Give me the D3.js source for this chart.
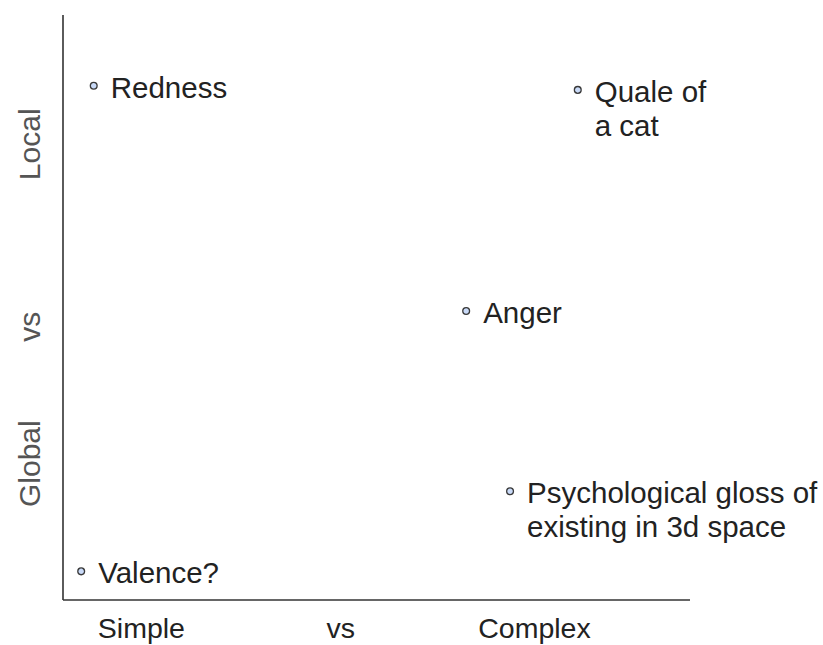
<!DOCTYPE html>
<html>
<head>
<meta charset="utf-8">
<script src="https://cdn.jsdelivr.net/npm/d3@7"></script>
<style>
  body { margin: 0; background: #fff; }
  text { font-family: "Liberation Sans", Arial, sans-serif; fill: #222; }
</style>
</head>
<body>
<script>
// data
var names = [["Redness"], ["Quale of", "a cat"], ["Anger"], ["Psychological gloss of", "existing in 3d space"], ["Valence?"]];
var xVals = [4.9, 82.1, 64.3, 71.3, 2.9];
var yVals = [87.9, 87.2, 49.4, 18.6, 4.9];
var xLabels = ["Simple", "vs", "Complex"];
var yLabels = ["Global", "vs", "Local"];
var xLabelPos = [12.5, 44.3, 75.2];
var yLabelPos = [23.3, 46.7, 77.9];

var width = 823, height = 645;

var x = d3.scaleLinear().domain([0, 100]).range([63, 690]);
var y = d3.scaleLinear().domain([0, 100]).range([600, 15]);

var svg = d3.select("body").append("svg")
    .attr("width", width)
    .attr("height", height);

// axes lines
svg.append("line")
    .attr("x1", x(0)).attr("x2", x(0))
    .attr("y1", y(100)).attr("y2", y(0))
    .style("stroke", "#333").style("stroke-width", 1.6);
svg.append("line")
    .attr("x1", x(0)).attr("x2", x(100))
    .attr("y1", y(0)).attr("y2", y(0))
    .style("stroke", "#333").style("stroke-width", 1.6);

// axis labels
svg.selectAll(".xlab")
    .data(xLabels)
    .enter().append("text")
    .attr("class", "xlab")
    .attr("x", function (d, i) { return x(xLabelPos[i]); })
    .attr("y", 638)
    .attr("text-anchor", "middle")
    .style("font-size", "28.5px")
    .text(function (d) { return d; });

svg.selectAll(".ylab")
    .data(yLabels)
    .enter().append("text")
    .attr("class", "ylab")
    .attr("transform", function (d, i) { return "translate(40," + y(yLabelPos[i]) + ") rotate(-90)"; })
    .attr("text-anchor", "middle")
    .style("font-size", "30px")
    .style("fill", "#555")
    .text(function (d) { return d; });

var pts = names.map(function (n, i) { return {lines: n, x: xVals[i], y: yVals[i]}; });

var g = svg.selectAll(".pt")
    .data(pts)
    .enter().append("g")
    .attr("class", "pt")
    .attr("transform", function (d) { return "translate(" + x(d.x) + "," + y(d.y) + ")"; });

g.append("circle")
    .attr("r", 3.4)
    .style("fill", "#c9daf8")
    .style("stroke", "#3a3a3a")
    .style("stroke-width", 1.3);

g.append("text")
    .attr("y", 12)
    .style("font-size", "29.5px")
    .selectAll("tspan")
    .data(function (d) { return d.lines; })
    .enter().append("tspan")
    .attr("x", 17)
    .attr("dy", function (d, i) { return i === 0 ? 0 : 34; })
    .text(function (d) { return d; });
</script>
</body>
</html>
